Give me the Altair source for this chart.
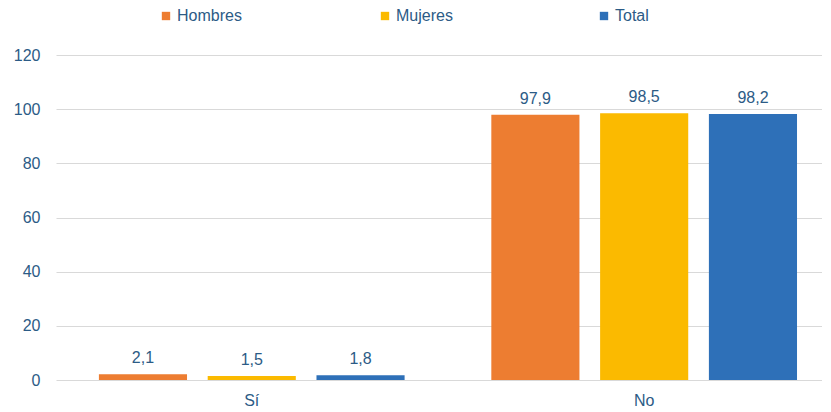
import altair as alt
import pandas as pd

categories = ["Sí", "No"]
series = ["Hombres", "Mujeres", "Total"]
hombres = [2.1, 97.9]
mujeres = [1.5, 98.5]
total = [1.8, 98.2]
colors = ["#ED7D31", "#FBBA00", "#2E70B8"]
y_ticks = [0, 20, 40, 60, 80, 100, 120]

rows = []
for s, vals in zip(series, [hombres, mujeres, total]):
    for c, v in zip(categories, vals):
        rows.append({"cat": c, "serie": s, "valor": v,
                     "etiqueta": f"{v:.1f}".replace(".", ",")})
df = pd.DataFrame(rows)

txt = "#2C5B86"
FONT = "Liberation Sans"

x = alt.X("cat:N", sort=categories, title=None,
          scale=alt.Scale(paddingInner=0.221, paddingOuter=0.0865, align=0.632),
          axis=alt.Axis(labelAngle=0, ticks=False, domain=False, labelPadding=12,
                        labelFontSize=16, labelColor=txt, labelFont=FONT, grid=False))
xo = alt.XOffset("serie:N", sort=series,
                 scale=alt.Scale(paddingInner=0.19, paddingOuter=0))
y = alt.Y("valor:Q", title=None,
          scale=alt.Scale(domain=[0, 120], nice=False),
          axis=alt.Axis(values=y_ticks, grid=True, gridColor="#D9D9D9", domain=False,
                        ticks=False, labelPadding=16, labelFontSize=16,
                        labelColor=txt, labelFont=FONT))
color = alt.Color("serie:N", sort=series,
                  scale=alt.Scale(domain=series, range=colors),
                  legend=alt.Legend(title=None, orient="none", direction="horizontal",
                                    legendX=102, legendY=-47, symbolType="square",
                                    symbolSize=70, symbolStrokeWidth=0,
                                    labelFontSize=16, labelColor=txt, labelFont=FONT,
                                    columnPadding=135, gridAlign="all", labelOffset=3))

bars = alt.Chart(df).mark_bar().encode(x=x, xOffset=xo, y=y, color=color)
labels = alt.Chart(df).mark_text(baseline="bottom", dy=-8, fontSize=16,
                                 color=txt, font=FONT).encode(
    x=x, xOffset=xo, y=y, text="etiqueta:N")

chart = (bars + labels).properties(
    width=766, height=325,
    background="white",
    padding={"left": 5, "top": 0, "right": 0, "bottom": 0},
).configure_view(strokeWidth=0)

chart.save("out.html", embed_options={"renderer": "svg", "actions": False})
